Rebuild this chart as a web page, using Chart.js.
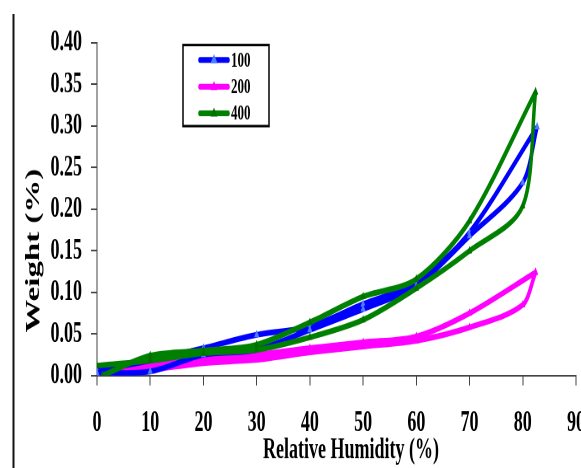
<!DOCTYPE html>
<html>
<head>
<meta charset="utf-8">
<script src="https://cdn.jsdelivr.net/npm/chart.js@4.4.1/dist/chart.umd.min.js"></script>
<style>
  html, body { margin: 0; padding: 0; background: #fff; overflow: hidden; width: 581px; height: 468px; }
  /* the original picture is stretched vertically, so the chart is drawn flat and scaled */
  #wrap { position: absolute; left: 0; top: 0; width: 600px; height: 284px;
          transform: scaleY(1.648); transform-origin: 0 0; }
</style>
</head>
<body>
<div id="wrap"><canvas id="chart"></canvas></div>
<script>
/* ── Data: each series is one hysteresis loop (up branch, peak, back down) ── */
const SERIES = ['100', '200', '400'];

const RH_100 = [0, 10, 20, 30, 40, 50, 60, 70, 80, 82.7, 70, 60, 50, 40, 30, 20, 10, 0];
const W_100  = [0.003, 0.005, 0.025, 0.031, 0.055, 0.080, 0.108, 0.168, 0.232, 0.299,
                0.172, 0.112, 0.086, 0.059, 0.049, 0.033, 0.018, 0.006];

const RH_200 = [0, 10, 20, 30, 40, 50, 60, 70, 80, 82.4, 70, 60, 50, 40, 30, 20, 10, 0];
const W_200  = [0.002, 0.007, 0.015, 0.019, 0.028, 0.035, 0.042, 0.058, 0.085, 0.124,
                0.075, 0.047, 0.040, 0.033, 0.025, 0.020, 0.012, 0.000];

const RH_400 = [0, 10, 20, 30, 40, 50, 60, 70, 80, 82.4, 70, 60, 50, 40, 30, 20, 10, 1];
const W_400  = [0.012, 0.018, 0.027, 0.031, 0.046, 0.067, 0.105, 0.150, 0.204, 0.341,
                0.186, 0.116, 0.095, 0.064, 0.037, 0.030, 0.024, 0.000];

const X_TICKS = [0, 10, 20, 30, 40, 50, 60, 70, 80, 90];
const Y_TICKS = [0, 0.05, 0.10, 0.15, 0.20, 0.25, 0.30, 0.35, 0.40];

const COLORS  = ['#0000ff', '#ff00ff', '#008000'];
const MARKERS = ['#4a7dff', '#ff00ff', '#007000'];

const FONT = '"Liberation Serif", "Times New Roman", serif';

/* split a loop at its peak so the turn stays sharp */
function branches(xs, ys) {
  const pk = ys.indexOf(Math.max(...ys));
  const all = xs.map((x, i) => ({ x: x, y: ys[i] }));
  return [all.slice(0, pk + 1), all.slice(pk)];
}

/* ── Titles, legend and the stray frame line ── */
const decoPlugin = {
  id: 'deco',
  afterDraw(chart) {
    const c = chart.ctx;
    c.save();

    c.strokeStyle = '#111';
    c.lineWidth = 2;
    c.beginPath();
    c.moveTo(13.5, 8.5);
    c.lineTo(13.5, 290);
    c.stroke();

    c.fillStyle = '#000';
    c.textAlign = 'center';
    c.textBaseline = 'middle';
    c.font = 'bold 18px ' + FONT;
    c.fillText('Relative Humidity (%)', 351, 273.5);

    c.save();
    c.translate(34, 152);
    c.rotate(-Math.PI / 2);
    c.font = 'bold 20px ' + FONT;
    c.fillText('Weight (%)', 0, 0);
    c.restore();

    // legend box
    c.lineWidth = 1.5;
    c.strokeStyle = '#000';
    c.strokeRect(183, 27.3, 86, 49.2);
    const rows = [36.4, 52.6, 68.8];
    SERIES.forEach((name, i) => {
      const y = rows[i];
      c.strokeStyle = COLORS[i];
      c.lineWidth = 3.5;
      c.lineCap = 'round';
      c.beginPath();
      c.moveTo(200, y);
      c.lineTo(228, y);
      c.stroke();
      c.fillStyle = MARKERS[i];
      c.beginPath();
      c.moveTo(214, y - 3.5);
      c.lineTo(217.5, y + 2);
      c.lineTo(210.5, y + 2);
      c.closePath();
      c.fill();
      c.fillStyle = '#000';
      c.textAlign = 'left';
      c.font = 'bold 13px ' + FONT;
      c.fillText(name, 231, y + 0.5);
    });

    c.restore();
  },
};

const datasets = [];
[
  [RH_400, W_400, 2],
  [RH_100, W_100, 0],
  [RH_200, W_200, 1],
].forEach(([xs, ys, k]) => {
  branches(xs, ys).forEach(part => {
    datasets.push({
      label: SERIES[k],
      data: part,
      showLine: true,
      borderColor: COLORS[k],
      backgroundColor: MARKERS[k],
      borderWidth: 3.5,
      tension: 0.3,
      pointStyle: 'triangle',
      pointRadius: 3,
      pointBorderWidth: 0,
    });
  });
});

new Chart(document.getElementById('chart'), {
  type: 'scatter',
  plugins: [decoPlugin],
  data: { datasets: datasets },
  options: {
    responsive: true,
    maintainAspectRatio: false,
    devicePixelRatio: 2,
    animation: false,
    layout: { padding: { left: 41.5, right: 24, top: 26, bottom: 4.5 } },
    plugins: {
      legend: { display: false },
      tooltip: { enabled: false },
    },
    scales: {
      x: {
        type: 'linear',
        min: 0,
        max: 90,
        afterBuildTicks: s => { s.ticks = X_TICKS.map(v => ({ value: v })); },
        grid: { drawOnChartArea: false, drawTicks: true, tickLength: 6, color: '#444' },
        border: { display: true, color: '#444', width: 1 },
        ticks: {
          padding: 12,
          color: '#000',
          maxRotation: 0,
          autoSkip: false,
          font: { family: FONT, size: 18, weight: 'bold' },
          callback: v => v,
        },
      },
      y: {
        min: 0,
        max: 0.4,
        afterBuildTicks: s => { s.ticks = Y_TICKS.map(v => ({ value: v })); },
        grid: { drawOnChartArea: false, drawTicks: true, tickLength: 6, color: '#444' },
        border: { display: true, color: '#444', width: 1 },
        ticks: {
          padding: 9,
          color: '#000',
          autoSkip: false,
          font: { family: FONT, size: 18, weight: 'bold' },
          callback: v => Number(v).toFixed(2),
        },
      },
    },
  },
});
</script>
</body>
</html>
